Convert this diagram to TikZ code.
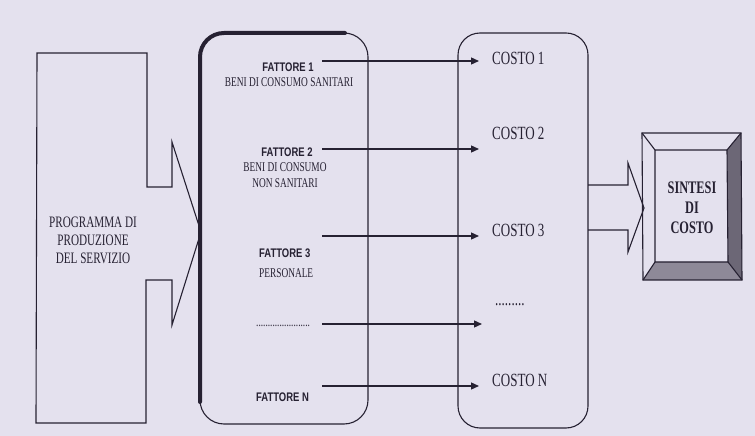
\documentclass[tikz,border=0pt]{standalone}
\usepackage{fontspec}
\setmainfont{Liberation Serif}
\newfontfamily\narserif[FakeStretch=0.7]{Liberation Serif}
\newfontfamily\narsans[FakeStretch=0.76]{Liberation Sans}
\usetikzlibrary{arrows.meta,calc}
\definecolor{paper}{RGB}{228,225,238}
\definecolor{ink}{RGB}{38,33,50}
\definecolor{bevdark}{RGB}{108,103,118}
\definecolor{bevmid}{RGB}{142,137,152}
\tikzset{
  outl/.style={draw=ink,line width=1.1bp},
  heavy/.style={draw=ink,line width=4bp,line cap=round},
  flow/.style={-{Triangle[length=8bp,width=7bp]},draw=ink,line width=1.3bp},
  fatt/.style={font=\narsans\bfseries\fontsize{12.5}{14}\selectfont,text=ink,inner sep=0pt},
  voce/.style={font=\narserif\fontsize{13.4}{16}\selectfont,text=ink,inner sep=0pt,align=center},
  costo/.style={font=\narserif\fontsize{18.7}{20}\selectfont,text=ink,inner sep=0pt,anchor=west},
}

\begin{document}
\begin{tikzpicture}[x=1bp,y=-1bp]
  \fill[paper] (0,0) rectangle (755,436);
  \useasboundingbox (0,0) rectangle (755,436);

  % programma di produzione: block arrow
  \draw[outl] (37,53) -- (147,53) -- (147,187) -- (172,187) -- (172,142)
    -- (201,232) -- (172,325) -- (172,280) -- (146,280) -- (146,423)
    -- (36,423) -- cycle;
  \node[voce,font=\narserif\fontsize{16}{18}\selectfont] (prog) at (93,240)
    {PROGRAMMA DI\\PRODUZIONE\\DEL SERVIZIO};

  % fattori and costi boxes
  \draw[outl,rounded corners=24bp] (200,33) rectangle (368,424);
  \draw[heavy,rounded corners=24bp] (200,402) -- (200,33) -- (345,33);
  \draw[outl,rounded corners=22bp] (458,33) rectangle (588,428);

  % fattori
  \node[fatt] (f1) at (288,67) {FATTORE 1};
  \node[voce] (b1) at (289,82) {BENI DI CONSUMO SANITARI};
  \node[fatt] (f2) at (287,152) {FATTORE 2};
  \node[voce] (b2) at (285,175) {BENI DI CONSUMO\\NON SANITARI};
  \node[fatt,anchor=west] (f3) at (259,253) {FATTORE 3};
  \node[voce,anchor=west] (b3) at (259,273) {PERSONALE};
  \node[voce,anchor=west] (fd) at (256,326) {.......................};
  \node[fatt,anchor=west] (fn) at (256,397) {FATTORE N};

  % costi
  \node[costo] (c1) at (492,58) {COSTO 1};
  \node[costo] (c2) at (492,133) {COSTO 2};
  \node[costo] (c3) at (492,230) {COSTO 3};
  \node[costo] (cd) at (495,305) {.........};
  \node[costo] (cn) at (492,380) {COSTO N};

  % one arrow for each fattore
  \foreach \k/\yy in {1/61,2/149,3/236,d/324,n/386}{
    \coordinate (s\k) at (322,\yy);
    \draw[flow,shorten >=13bp] (s\k) -- (s\k -| c\k.west);
  }

  % arrow to the sintesi
  \draw[outl] (588,185) -- (628,185) -- (628,163) -- (644,208)
    -- (628,252) -- (628,230) -- (588,230);

  % sintesi di costo: bevelled frame
  \fill[bevdark] (741,133) -- (742,280) -- (728,262) -- (727,150) -- cycle;
  \fill[bevmid] (643,280) -- (742,280) -- (728,262) -- (655,262) -- cycle;
  \draw[outl] (642,133) -- (741,133) -- (742,280) -- (643,280) -- cycle;
  \draw[outl] (655,150) -- (727,150) -- (728,262) -- (655,262) -- cycle;
  \draw[outl] (642,133) -- (655,150) (741,133) -- (727,150)
    (742,280) -- (728,262) (643,280) -- (655,262);
  \node[voce,font=\narserif\bfseries\fontsize{17.7}{20}\selectfont] (sint) at (692,208)
    {SINTESI\\DI\\COSTO};
\end{tikzpicture}
\end{document}
